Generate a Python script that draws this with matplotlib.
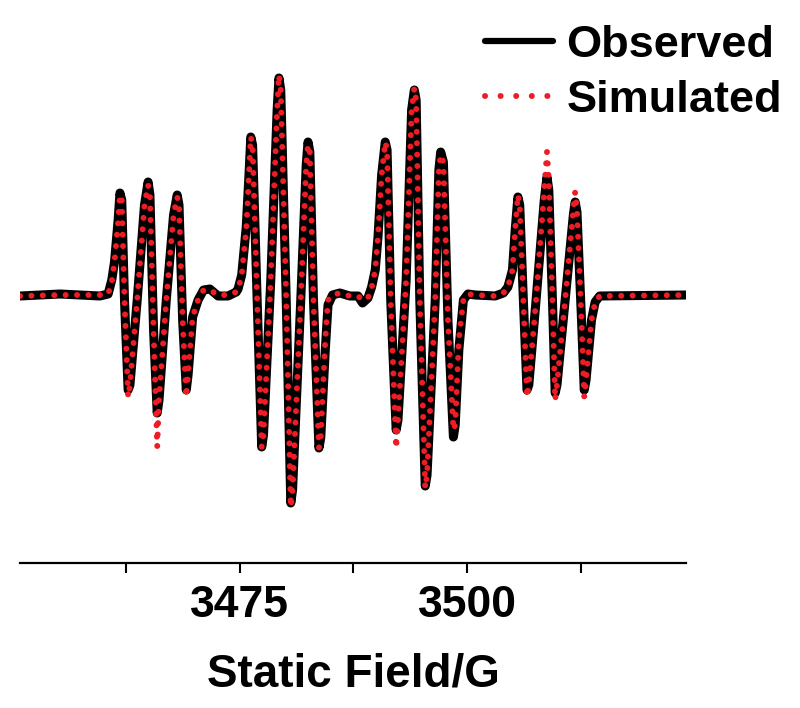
import matplotlib
matplotlib.use('Agg')
import matplotlib.pyplot as plt

plt.rcParams['font.family'] = ['Liberation Sans', 'DejaVu Sans']
plt.rcParams['font.weight'] = 'bold'

# static field (G) at the vertices
field = [3450.8, 3455.2, 3459.6, 3460.5, 3460.9, 3461.2, 3461.6, 3461.8, 3462.0, 3462.3,
         3462.7, 3462.9, 3463.7, 3464.5, 3464.9, 3465.1, 3465.5, 3465.9, 3466.1, 3466.9,
         3467.7, 3468.1, 3468.3, 3468.7, 3469.1, 3469.3, 3469.8, 3470.4, 3471.0, 3471.7,
         3472.6, 3473.7, 3474.6, 3474.8, 3475.2, 3475.7, 3476.0, 3476.2, 3476.4, 3476.9,
         3477.4, 3477.6, 3478.4, 3479.1, 3479.3, 3479.5, 3480.1, 3480.6, 3480.8, 3481.7,
         3482.3, 3482.5, 3482.7, 3483.1, 3483.7, 3483.9, 3484.4, 3484.7, 3485.2, 3486.0,
         3487.1, 3488.0, 3488.5, 3489.1, 3489.5, 3489.9, 3490.2, 3490.6, 3491.0, 3491.2,
         3491.6, 3492.2, 3492.4, 3493.3, 3493.9, 3494.2, 3494.4, 3494.8, 3495.4, 3495.6,
         3496.5, 3496.9, 3497.1, 3497.4, 3497.9, 3498.5, 3498.7, 3499.1, 3499.6, 3500.1,
         3500.9, 3503.1, 3504.0, 3504.5, 3505.0, 3505.3, 3505.6, 3505.8, 3506.2, 3506.6,
         3506.8, 3507.6, 3508.5, 3508.8, 3509.0, 3509.4, 3509.7, 3509.9, 3510.8, 3511.7,
         3511.9, 3512.1, 3512.6, 3512.9, 3513.1, 3513.7, 3514.1, 3514.6, 3524.1]

# EPR signal (arb. units)
observed = [-1, 1, -1, 1, 15, 33, 75, 102, 95, -5,
            -95, -90, -5, 90, 113, 100, -35, -118, -105, -5,
            80, 100, 90, -25, -95, -80, -22, -5, 5, 6,
            -1, -1, 3, 6, 20, 68, 120, 158, 150, -5,
            -152, -140, 15, 185, 217, 205, -5, -208, -195, -5,
            130, 153, 143, -5, -153, -143, -55, -10, 0, 2,
            -1, -1, -8, -3, 8, 25, 58, 120, 153, 145,
            -5, -135, -125, 15, 185, 205, 195, -5, -191, -180,
            -5, 125, 143, 133, -25, -142, -130, -55, -5, 1,
            0, -1, 2, 8, 25, 65, 98, 90, -5, -95,
            -90, -5, 95, 118, 105, -5, -98, -90, -5, 80,
            93, 83, -25, -95, -85, -25, -7, -1, 0]

simulated = [-1, 0, 0, 1, 13, 33, 73, 100, 95, -5,
             -102, -90, -5, 90, 110, 100, -35, -152, -105, -5,
             80, 98, 90, -25, -102, -80, -22, -5, 5, 5,
             0, 0, 3, 5, 20, 65, 120, 158, 150, -5,
             -152, -140, 15, 185, 220, 205, -5, -212, -195, -5,
             130, 150, 143, -5, -153, -143, -45, -5, 0, 2,
             -1, -1, -5, -3, 7, 25, 58, 120, 153, 145,
             -5, -153, -125, 15, 185, 207, 195, -5, -193, -180,
             -5, 125, 140, 133, -25, -135, -130, -45, -5, 1,
             0, -1, 2, 8, 25, 65, 100, 90, -5, -102,
             -90, -5, 105, 143, 115, -5, -105, -90, -5, 85,
             103, 85, -25, -102, -85, -25, -7, -1, 0]

tick_pos = [3462.5, 3475, 3487.5, 3500, 3512.5]
tick_lab = ['', '3475', '', '3500', '']

fig = plt.figure(figsize=(8, 7.08), dpi=100)
ax = fig.add_axes([20/800, 1-563/708, 666/800, 523/708])

ax.plot(field, observed, color='black', lw=6.5, solid_joinstyle='round',
        solid_capstyle='round', label='Observed', zorder=2)
ax.plot(field, simulated, color='#ee1c25', lw=4.3, linestyle=(0, (0.01, 1.9)),
        dash_capstyle='round', label='Simulated', zorder=3)

ax.set_xlim(3450.8, 3524.1)
ax.set_ylim(-268, 255)

for s in ['left', 'right', 'top']:
    ax.spines[s].set_visible(False)
ax.spines['bottom'].set_linewidth(1.6)
ax.set_yticks([])
ax.set_xticks(tick_pos)
ax.set_xticklabels(tick_lab)
ax.tick_params(axis='x', direction='out', length=7, width=1.5, pad=9, labelsize=32)
ax.set_xlabel('Static Field/G', fontsize=33, fontweight='bold', labelpad=19)

leg = ax.legend(loc='upper right', bbox_to_anchor=(782/800, 1-25/708), bbox_transform=fig.transFigure,
                frameon=False, prop={'size': 32.5, 'weight': 'bold'}, handlelength=1.5,
                handletextpad=0.3, labelspacing=0.3, borderpad=0, borderaxespad=0)
leg.get_lines()[0].set_linewidth(4.5)
leg.get_lines()[1].set_linestyle((0, (0.01, 2.6)))

plt.savefig('out.png', dpi=100)
